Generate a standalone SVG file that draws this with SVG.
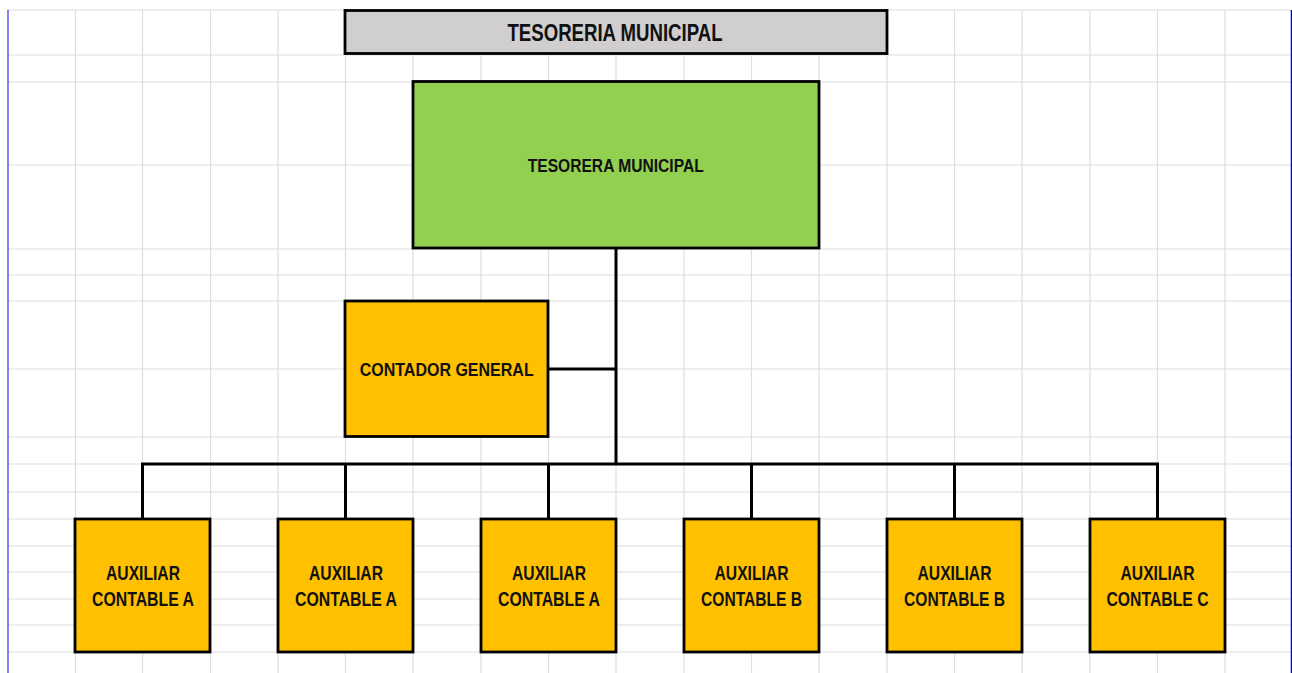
<svg xmlns="http://www.w3.org/2000/svg" width="1292" height="673" viewBox="0 0 1292 673">
<style>
.grid line{stroke:#dedede;stroke-width:1.2}
.box{stroke:#000;stroke-width:2.8}
.t{font-family:"Liberation Sans",Arial,sans-serif;font-weight:bold;fill:#111;text-anchor:middle}
.conn{stroke:#000;stroke-width:3;fill:none}
</style>
<rect width="1292" height="673" fill="#fff"/>
<g class="grid">
<line x1="8" y1="10" x2="1291" y2="10"/>
<line x1="8" y1="55" x2="1291" y2="55"/>
<line x1="8" y1="82" x2="1291" y2="82"/>
<line x1="8" y1="165" x2="1291" y2="165"/>
<line x1="8" y1="249" x2="1291" y2="249"/>
<line x1="8" y1="275" x2="1291" y2="275"/>
<line x1="8" y1="301" x2="1291" y2="301"/>
<line x1="8" y1="369" x2="1291" y2="369"/>
<line x1="8" y1="437" x2="1291" y2="437"/>
<line x1="8" y1="464" x2="1291" y2="464"/>
<line x1="8" y1="492" x2="1291" y2="492"/>
<line x1="8" y1="519" x2="1291" y2="519"/>
<line x1="8" y1="546" x2="1291" y2="546"/>
<line x1="8" y1="572" x2="1291" y2="572"/>
<line x1="8" y1="599" x2="1291" y2="599"/>
<line x1="8" y1="625" x2="1291" y2="625"/>
<line x1="8" y1="652" x2="1291" y2="652"/>
<line x1="75.5" y1="10" x2="75.5" y2="673"/>
<line x1="142.5" y1="10" x2="142.5" y2="673"/>
<line x1="210.5" y1="10" x2="210.5" y2="673"/>
<line x1="278" y1="10" x2="278" y2="673"/>
<line x1="345.5" y1="10" x2="345.5" y2="673"/>
<line x1="413" y1="10" x2="413" y2="673"/>
<line x1="481" y1="10" x2="481" y2="673"/>
<line x1="548.5" y1="10" x2="548.5" y2="673"/>
<line x1="616" y1="10" x2="616" y2="673"/>
<line x1="684" y1="10" x2="684" y2="673"/>
<line x1="751.5" y1="10" x2="751.5" y2="673"/>
<line x1="819" y1="10" x2="819" y2="673"/>
<line x1="887" y1="10" x2="887" y2="673"/>
<line x1="954.5" y1="10" x2="954.5" y2="673"/>
<line x1="1022" y1="10" x2="1022" y2="673"/>
<line x1="1090" y1="10" x2="1090" y2="673"/>
<line x1="1157.5" y1="10" x2="1157.5" y2="673"/>
<line x1="1225" y1="10" x2="1225" y2="673"/>
</g>
<line x1="8" y1="10" x2="8" y2="673" stroke="#5a5ae6" stroke-width="1.5"/>
<line x1="1291.5" y1="10" x2="1291.5" y2="673" stroke="#0000b4" stroke-width="1.5"/>

<g id="connectors">
<line class="conn" x1="616" y1="248" x2="616" y2="464"/>
<line class="conn" x1="548" y1="369" x2="616" y2="369"/>
<line class="conn" x1="141" y1="464" x2="1159" y2="464"/>
<line class="conn" x1="142.5" y1="464" x2="142.5" y2="519"/>
<line class="conn" x1="345.5" y1="464" x2="345.5" y2="519"/>
<line class="conn" x1="548.5" y1="464" x2="548.5" y2="519"/>
<line class="conn" x1="751.5" y1="464" x2="751.5" y2="519"/>
<line class="conn" x1="954.5" y1="464" x2="954.5" y2="519"/>
<line class="conn" x1="1157.5" y1="464" x2="1157.5" y2="519"/>
</g>

<g id="title">
<rect class="box" x="345" y="10.5" width="542" height="43" fill="#d0cece"/>
<text class="t" x="615" y="41" font-size="24" textLength="215" lengthAdjust="spacingAndGlyphs">TESORERIA MUNICIPAL</text>
</g>
<g id="tesorera">
<rect class="box" x="413" y="81.5" width="406" height="166.5" fill="#92d050"/>
<text class="t" x="615.7" y="172" font-size="19" textLength="176" lengthAdjust="spacingAndGlyphs">TESORERA MUNICIPAL</text>
</g>
<g id="contador">
<rect class="box" x="345" y="301" width="203" height="135.5" fill="#ffc000"/>
<text class="t" x="446.7" y="376" font-size="19" textLength="174" lengthAdjust="spacingAndGlyphs">CONTADOR GENERAL</text>
</g>
<g id="aux1">
<rect class="box" x="75" y="519" width="135" height="133" fill="#ffc000"/>
<text class="t" x="143" y="580" font-size="20" textLength="74" lengthAdjust="spacingAndGlyphs">AUXILIAR</text>
<text class="t" x="143" y="606" font-size="20" textLength="102" lengthAdjust="spacingAndGlyphs">CONTABLE A</text>
</g>
<g id="aux2">
<rect class="box" x="278" y="519" width="135" height="133" fill="#ffc000"/>
<text class="t" x="346" y="580" font-size="20" textLength="74" lengthAdjust="spacingAndGlyphs">AUXILIAR</text>
<text class="t" x="346" y="606" font-size="20" textLength="102" lengthAdjust="spacingAndGlyphs">CONTABLE A</text>
</g>
<g id="aux3">
<rect class="box" x="481" y="519" width="135" height="133" fill="#ffc000"/>
<text class="t" x="549" y="580" font-size="20" textLength="74" lengthAdjust="spacingAndGlyphs">AUXILIAR</text>
<text class="t" x="549" y="606" font-size="20" textLength="102" lengthAdjust="spacingAndGlyphs">CONTABLE A</text>
</g>
<g id="aux4">
<rect class="box" x="684" y="519" width="135" height="133" fill="#ffc000"/>
<text class="t" x="751.5" y="580" font-size="20" textLength="74" lengthAdjust="spacingAndGlyphs">AUXILIAR</text>
<text class="t" x="751.5" y="606" font-size="20" textLength="101" lengthAdjust="spacingAndGlyphs">CONTABLE B</text>
</g>
<g id="aux5">
<rect class="box" x="887" y="519" width="135" height="133" fill="#ffc000"/>
<text class="t" x="954.5" y="580" font-size="20" textLength="74" lengthAdjust="spacingAndGlyphs">AUXILIAR</text>
<text class="t" x="954.5" y="606" font-size="20" textLength="101" lengthAdjust="spacingAndGlyphs">CONTABLE B</text>
</g>
<g id="aux6">
<rect class="box" x="1090" y="519" width="135" height="133" fill="#ffc000"/>
<text class="t" x="1157.5" y="580" font-size="20" textLength="74" lengthAdjust="spacingAndGlyphs">AUXILIAR</text>
<text class="t" x="1157.5" y="606" font-size="20" textLength="102" lengthAdjust="spacingAndGlyphs">CONTABLE C</text>
</g>
</svg>
